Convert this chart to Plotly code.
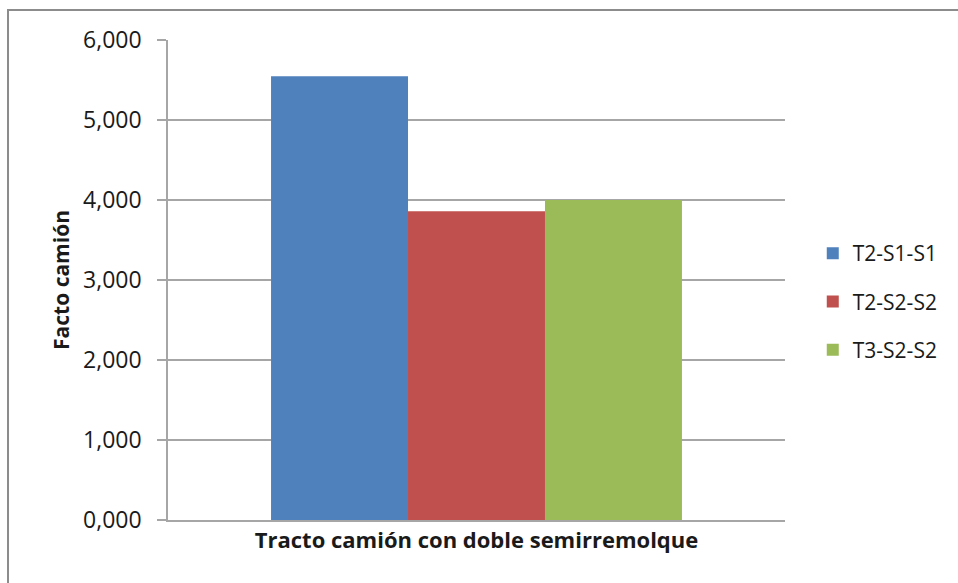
import plotly.graph_objects as go

# Factor camión per configuration of tractor-trailer with double semitrailer
category = ["Tracto camión con doble semirremolque"]
series_names = ["T2-S1-S1", "T2-S2-S2", "T3-S2-S2"]
series_values = [[5.547], [3.860], [4.000]]
series_colors = ["#4F81BD", "#C0504D", "#9BBB59"]
y_ticks = [0, 1, 2, 3, 4, 5, 6]
y_tick_labels = ["0,000", "1,000", "2,000", "3,000", "4,000", "5,000", "6,000"]

FONT = "Open Sans"

fig = go.Figure()
for i, (name, vals, col) in enumerate(zip(series_names, series_values, series_colors)):
    fig.add_trace(go.Bar(
        x=category, y=vals, name=name,
        marker=dict(color=col, line=dict(width=0)),
        legendgroup=name,
    ))

fig.update_layout(
    width=958, height=583,
    margin=dict(l=168, r=173, t=40, b=63, autoexpand=False),
    paper_bgcolor="white", plot_bgcolor="white",
    barmode="group", bargap=0.334, bargroupgap=0,
    font=dict(family=FONT, color="#1a1a1a"),
    showlegend=True,
    legend=dict(
        x=1.045, xanchor="left", y=0.455, yanchor="middle",
        font=dict(family=FONT, size=21, color="#1a1a1a"),
        traceorder="grouped", tracegroupgap=18,
        itemwidth=30, bgcolor="rgba(0,0,0,0)",
    ),
    xaxis=dict(
        showgrid=False, showline=True, linecolor="#a6a6a6", linewidth=1.5,
        ticks="", tickfont=dict(family=FONT, size=22, weight="bold", color="#1a1a1a"),
        fixedrange=True, automargin=False,
    ),
    yaxis=dict(
        range=[0, 6], tickvals=y_ticks, ticktext=y_tick_labels,
        showgrid=True, gridcolor="#a6a6a6", gridwidth=1.5,
        showline=True, linecolor="#a6a6a6", linewidth=1.5,
        ticks="outside", ticklen=9, tickcolor="#a6a6a6", tickwidth=1.5,
        ticklabelstandoff=11,
        tickfont=dict(family=FONT, size=23, color="#1a1a1a"),
        title=dict(text="Facto camión", font=dict(family=FONT, size=21, weight="bold", color="#1a1a1a"), standoff=8),
        zeroline=False, automargin=False,
    ),
    shapes=[dict(
        type="rect", xref="paper", yref="paper",
        x0=-0.2593, y0=-1.0, x1=2.0, y1=1.0625,
        line=dict(color="#8c8c8c", width=2), fillcolor="rgba(0,0,0,0)", layer="below",
    )],
)

fig.write_html("out.html")
